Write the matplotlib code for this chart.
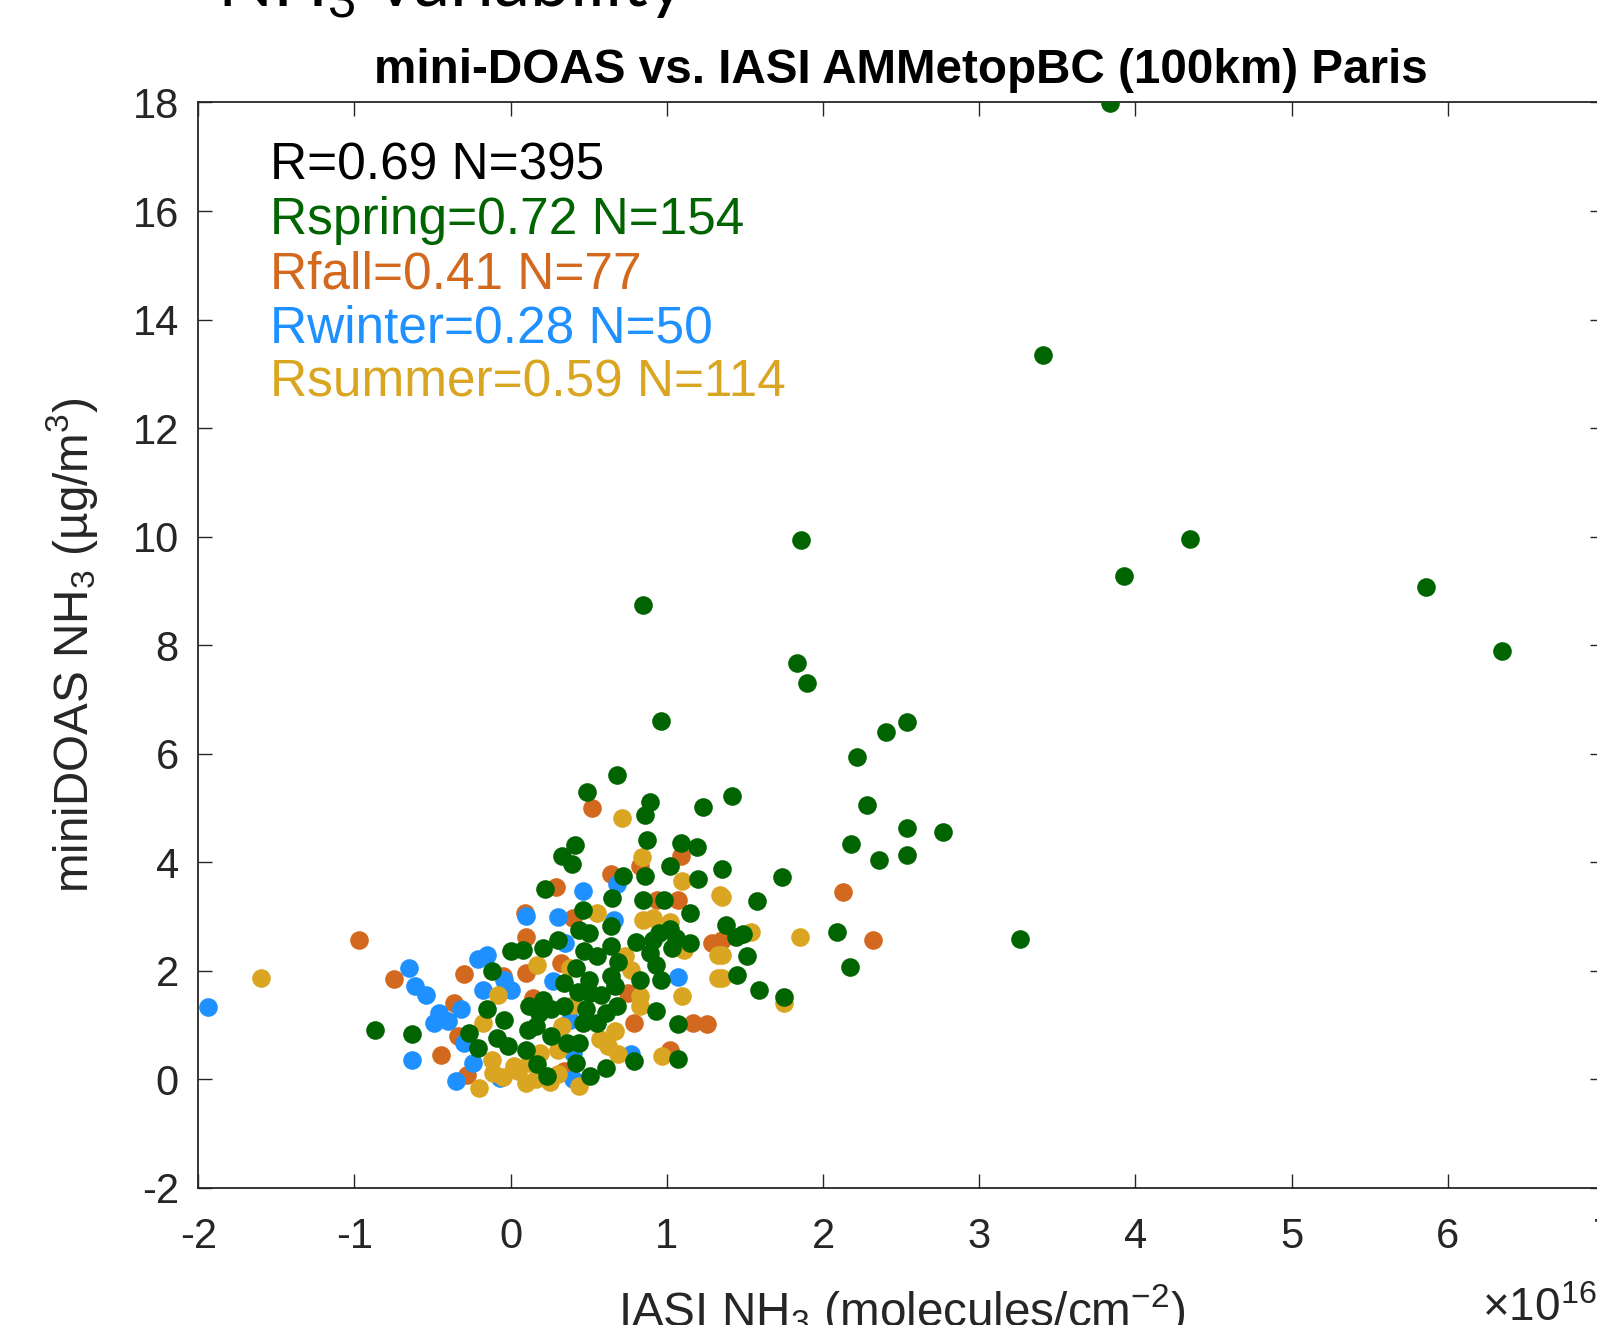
import matplotlib
matplotlib.use("Agg")
import matplotlib.pyplot as plt

plt.rcParams['font.family'] = ['Liberation Sans', 'DejaVu Sans']
plt.rcParams['mathtext.fontset'] = 'custom'
plt.rcParams['mathtext.rm'] = 'Liberation Sans'
plt.rcParams['mathtext.it'] = 'Liberation Sans:italic'
plt.rcParams['mathtext.bf'] = 'Liberation Sans:bold'
plt.rcParams['axes.unicode_minus'] = False

# seasons: IASI NH3 column (x 1e16 molec/cm2) vs miniDOAS NH3 (ug/m3)
spring_x = [3.84, 3.41, 1.86, 4.35, 3.93, 5.86, 6.35, 0.85, 1.83, 1.90, 0.96, 2.54, 2.40, 2.22, 3.26, -0.87, -0.63, 2.77,
            1.42, 2.28, 2.54, 2.18, 2.36, 2.54, 1.74, 1.58, 1.35, 2.09, 1.38, 1.49, 1.44, 1.51, 1.45, 2.17, 1.59, 1.75,
            0.68, 0.49, 0.89, 0.86, 1.23, 0.41, 0.33, 0.39, 0.87, 1.09, 1.19, 1.02, 1.20, 0.72, 0.86, 0.22,
            0.65, 0.85, 0.98, 0.46, 0.64, 0.44, 0.50, 1.15, 1.02, 0.95, 1.06, 1.15, 1.03, 0.91, 0.80, 0.89, 0.93,
            0.83, 0.96, 0.69, 0.64, 0.55, 0.47, 0.30, 0.21, 0.42, 0.34, 0.50, 0.64, 0.67, 0.58, 0.51, 0.43, 0.93,
            1.07, 0.21, 0.18, 0.26, 0.34, 0.48, 0.61, 0.68, 0.46, 0.55, 0.16, 0.26, 0.36, 0.44, 0.17, 0.23, 0.42,
            0.51, 0.61, 0.79, 1.07,
            -0.12, -0.15, -0.27, -0.21, -0.04, -0.09, -0.02, 0.00, 0.08, 0.12, 0.11, 0.10]
spring_y = [17.99, 13.35, 9.93, 9.95, 9.28, 9.07, 7.89, 8.75, 7.68, 7.31, 6.61, 6.59, 6.40, 5.95, 2.59, 0.91, 0.83, 4.56,
            5.23, 5.06, 4.63, 4.33, 4.04, 4.14, 3.73, 3.28, 3.87, 2.71, 2.85, 2.68, 2.63, 2.27, 1.93, 2.07, 1.65, 1.52,
            5.61, 5.29, 5.12, 4.87, 5.02, 4.32, 4.11, 3.97, 4.41, 4.35, 4.29, 3.94, 3.70, 3.75, 3.74, 3.51,
            3.34, 3.31, 3.31, 3.13, 2.82, 2.76, 2.70, 3.06, 2.77, 2.70, 2.60, 2.51, 2.42, 2.57, 2.54, 2.33, 2.11,
            1.84, 1.84, 2.17, 2.45, 2.27, 2.36, 2.57, 2.42, 2.05, 1.78, 1.84, 1.90, 1.72, 1.56, 1.59, 1.62, 1.26,
            1.03, 1.47, 1.23, 1.29, 1.35, 1.29, 1.23, 1.35, 1.04, 1.04, 0.98, 0.80, 0.67, 0.67, 0.28, 0.06, 0.31,
            0.06, 0.22, 0.34, 0.37,
            2.00, 1.29, 0.86, 0.58, 1.10, 0.77, 0.61, 2.36, 2.39, 1.35, 0.92, 0.55]

fall_x = [-0.97, -0.75, -0.445, -0.36, -0.30, -0.05, -0.34, -0.28, 0.09, 0.10, 0.10, 0.14, 0.29, 0.94, 1.07, 0.40,
          1.29, 0.32, 0.75, 0.79, 1.17, 1.26, 0.34, 1.02, 0.52, 0.83, 1.09, 0.64, 2.13, 2.32, 1.35]
fall_y = [2.56, 1.85, 0.45, 1.40, 1.94, 1.90, 0.80, 0.09, 3.06, 2.63, 1.96, 1.50, 3.55, 3.31, 3.31, 2.97,
          2.51, 2.15, 1.59, 1.04, 1.04, 1.03, 0.15, 0.55, 5.01, 3.93, 4.12, 3.79, 3.46, 2.57, 2.57]

winter_x = [-1.94, -0.65, -0.61, -0.54, -0.63, -0.35, -0.46, -0.49, -0.40, -0.32, -0.21, -0.15, -0.18, -0.04, 0.00,
            -0.24, -0.30, -0.07, 0.10, 0.46, 0.68, 0.30, 0.66, 0.35, 0.27, 1.07, 0.38, 0.40, 0.40, 0.77]
winter_y = [1.33, 2.05, 1.73, 1.56, 0.35, -0.02, 1.23, 1.04, 1.07, 1.29, 2.21, 2.30, 1.65, 1.84, 1.65,
            0.31, 0.67, 0.03, 3.01, 3.48, 3.60, 3.00, 2.94, 2.51, 1.81, 1.89, 1.10, 0.49, 0.00, 0.46]

summer_x = [-1.60, -0.08, -0.18, -0.20, -0.11, 0.02, 0.10, 0.17, 0.16, 1.34, 1.10, 0.55, 0.85, 0.91, 1.02, 1.33,
            1.33, 1.11, 1.10, 0.73, 0.77, 0.38, 0.83, 0.83, 0.40, 0.33, 0.57, 0.67, 0.69, 0.19, 0.30, 0.44, 0.62,
            0.97, 0.71, 0.84, 1.35, 1.85, 1.54, 1.35, 1.35, 1.75, -0.05, 0.05, -0.12, 0.25, 0.30, 0.12]
summer_y = [1.86, 1.56, 1.04, -0.15, 0.12, 0.24, -0.06, 2.11, 0.00, 3.40, 3.66, 3.06, 2.94, 2.97, 2.91, 2.30,
            1.86, 2.39, 1.53, 2.27, 2.02, 2.05, 1.53, 1.35, 1.38, 0.98, 0.74, 0.89, 0.46, 0.49, 0.55, -0.12, 0.61,
            0.43, 4.81, 4.10, 3.37, 2.62, 2.71, 2.30, 1.87, 1.41, 0.05, 0.15, 0.35, -0.05, 0.10, 0.30]

stats_lines = ["R=0.69 N=395", "Rspring=0.72 N=154", "Rfall=0.41 N=77",
               "Rwinter=0.28 N=50", "Rsummer=0.59 N=114"]

c_spring = '#006400'
c_fall = '#D2691E'
c_winter = '#1E90FF'
c_summer = '#DAA520'
stats_colors = ['black', c_spring, c_fall, c_winter, c_summer]
axcol = '#262626'

fig = plt.figure(figsize=(15.97, 13.25), dpi=100)
ax = fig.add_axes([0.12417, 0.1034, 0.88021, 0.81925])

ms = 180
ax.scatter(fall_x, fall_y, s=ms, c=c_fall, linewidths=0, zorder=2)
ax.scatter(winter_x, winter_y, s=ms, c=c_winter, linewidths=0, zorder=3)
ax.scatter(summer_x, summer_y, s=ms, c=c_summer, linewidths=0, zorder=4)
ax.scatter(spring_x, spring_y, s=ms, c=c_spring, linewidths=0, zorder=5)

ax.set_xlim(-2, 7)
ax.set_ylim(-2, 18)
ax.set_xticks(range(-2, 8))
ax.set_yticks(range(-2, 19, 2))
ax.tick_params(direction='in', length=10, width=1.0, colors=axcol, labelsize=30,
               top=True, right=True)
ax.tick_params(axis='x', pad=21)
ax.tick_params(axis='y', pad=14)
for sp in ax.spines.values():
    sp.set_color(axcol)
    sp.set_linewidth(1.3)

for i, (txt, col) in enumerate(zip(stats_lines, stats_colors)):
    ax.text(-1.54, 16.58 - i, txt, color=col, fontsize=37, va='baseline', ha='left', zorder=6)

ax.set_title("mini-DOAS vs. IASI AMMetopBC (100km) Paris", fontsize=34.3,
             fontweight='bold', color='black', pad=14)

ax.set_ylabel("miniDOAS NH$_3$ (µg/m$^3$)", fontsize=34.3, color=axcol)
ax.yaxis.set_label_coords(-0.0895, 0.5)
ax.yaxis.label.set_va('center')

ax.set_xlabel("IASI NH$_3$ (molecules/cm$^{-2}$)", fontsize=34.3, color=axcol)
ax.xaxis.set_label_coords(0.5, -0.1269)
ax.xaxis.label.set_va('baseline')

fig.text(1482 / 1597, 1 - 1321 / 1325, "$\\times$10$^{16}$", fontsize=33,
         color=axcol, ha='left', va='baseline')

fig.text(217 / 1597, 1 - 6 / 1325, "NH$_3$ variability", fontsize=52,
         family=['Lato', 'DejaVu Sans'], color='black', ha='left', va='baseline')

fig.savefig("out.png", dpi=100)
